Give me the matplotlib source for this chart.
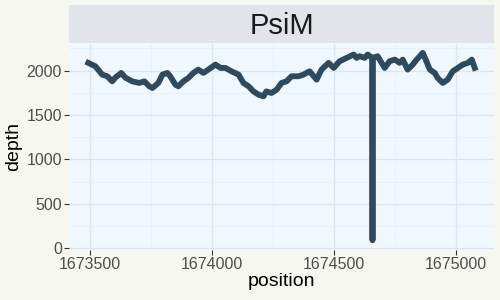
import numpy as np
import matplotlib.pyplot as plt
from matplotlib import ticker

plt.rcParams['font.family'] = ['Liberation Sans', 'DejaVu Sans']

# depth readings along the PsiM region
position = [1673492, 1673521, 1673549, 1673570, 1673590, 1673603, 1673627, 1673644,
            1673672, 1673701, 1673722, 1673742, 1673755, 1673779, 1673796, 1673816,
            1673828, 1673849, 1673861, 1673882, 1673902, 1673923, 1673943, 1673964,
            1673984, 1674013, 1674034, 1674054, 1674079, 1674108, 1674128, 1674149,
            1674169, 1674190, 1674210, 1674222, 1674243, 1674264, 1674284, 1674305,
            1674325, 1674354, 1674374, 1674399, 1674428, 1674448, 1674477, 1674498,
            1674522, 1674551, 1674580, 1674592, 1674604, 1674625, 1674637, 1674656,
            1674657, 1674658, 1674678, 1674707, 1674727, 1674748, 1674768, 1674781,
            1674801, 1674822, 1674838, 1674851, 1674863, 1674875, 1674892, 1674912,
            1674924, 1674945, 1674965, 1674986, 1675007, 1675027, 1675048, 1675064,
            1675076]
depth = [2087, 2049, 1955, 1936, 1879, 1921, 1974, 1921,
         1879, 1861, 1879, 1823, 1804, 1861, 1955, 1974,
         1936, 1842, 1823, 1879, 1917, 1974, 2011, 1974,
         2011, 2068, 2030, 2030, 1992, 1955, 1861, 1823,
         1766, 1729, 1710, 1766, 1748, 1785, 1861, 1879,
         1936, 1936, 1955, 1992, 1898, 2011, 2087, 2030,
         2105, 2143, 2181, 2143, 2162, 2143, 2181, 2143,
         90, 2143, 2162, 2030, 2105, 2124, 2087, 2124,
         2011, 2068, 2124, 2162, 2200, 2124, 2011, 1974,
         1917, 1861, 1898, 1992, 2030, 2068, 2087, 2124,
         2030]

sample = "PsiM"
x_ticks = [1673500, 1674000, 1674500, 1675000]
y_ticks = [0, 500, 1000, 1500, 2000]

fig = plt.figure(figsize=(5, 3), dpi=100, facecolor="#f7f7f2")

# panel
ax = fig.add_axes([0.138, 0.168, 0.85, 0.687])
ax.set_facecolor("#f0f8ff")
ax.plot(position, depth, color="#2f4a5f", linewidth=4.2, solid_joinstyle="round")

ax.set_xlim(1673413, 1675155)
ax.set_ylim(-15, 2305)
ax.set_xticks(x_ticks)
ax.set_xticklabels([str(v) for v in x_ticks])
ax.set_yticks(y_ticks)
ax.set_yticklabels([str(v) for v in y_ticks])
ax.xaxis.set_minor_locator(ticker.FixedLocator([1673750, 1674250, 1674750]))
ax.yaxis.set_minor_locator(ticker.FixedLocator([250, 750, 1250, 1750, 2250]))
ax.grid(True, which="major", color="#dde6ec", linewidth=0.9)
ax.grid(True, which="minor", color="#e6eef3", linewidth=0.5)
ax.set_axisbelow(True)
for s in ax.spines.values():
    s.set_visible(False)
ax.tick_params(which="major", colors="#333333", labelcolor="#4d4d4d",
               labelsize=11.5, length=3.5, width=0.8, pad=1.5)
ax.tick_params(which="minor", length=0)
ax.set_xlabel("position", fontsize=14, labelpad=1)
ax.set_ylabel("depth", fontsize=14, labelpad=3)

# facet strip
strip = fig.add_axes([0.138, 0.857, 0.85, 0.127])
strip.set_facecolor("#e1e5e9")
strip.set_xticks([])
strip.set_yticks([])
for s in strip.spines.values():
    s.set_visible(False)
strip.text(0.5, 0.45, sample, ha="center", va="center", fontsize=21,
           color="#1a1a1a", transform=strip.transAxes)

fig.savefig("out.png", dpi=100, facecolor=fig.get_facecolor())
